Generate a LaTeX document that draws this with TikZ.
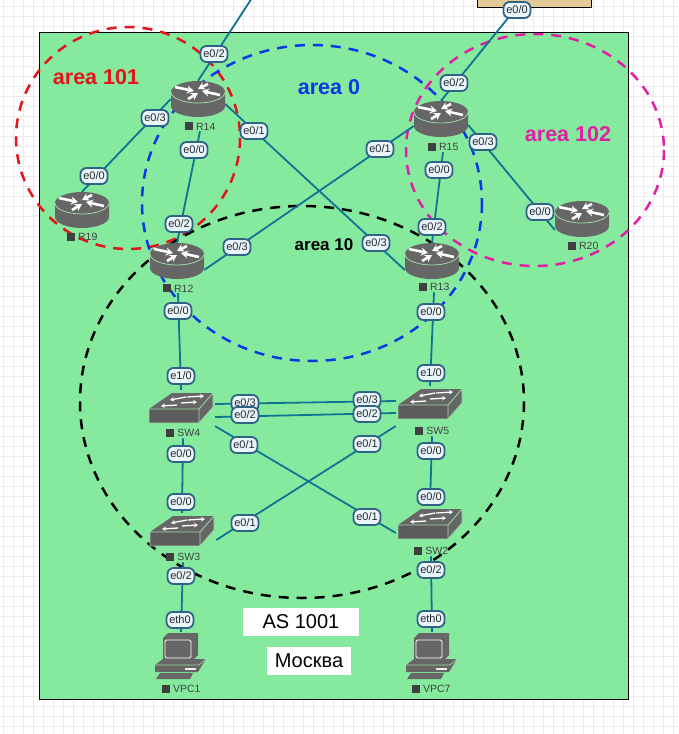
\documentclass[tikz,border=0pt]{standalone}
\usepackage{fontspec}
\setmainfont{Liberation Sans}
\usetikzlibrary{arrows.meta}
\pgfdeclarelayer{zones}
\pgfdeclarelayer{links}
\pgfsetlayers{zones,links,main}
\definecolor{zonegreen}{HTML}{86EA9E}
\definecolor{devgray}{HTML}{666666}
\definecolor{rimgreen}{HTML}{9FD8A8}
\definecolor{linkteal}{HTML}{0F7396}
\definecolor{portedge}{HTML}{2E6287}
\definecolor{portfill}{HTML}{EAF6FD}
\definecolor{tanbox}{HTML}{E2CB98}
\definecolor{area101}{HTML}{E3141C}
\definecolor{area0}{HTML}{0A38E6}
\definecolor{area102}{HTML}{E01FA6}
\tikzset{
  link/.style={draw=linkteal,line width=1.8pt},
  port/.style={draw=portedge,fill=portfill,line width=1.8pt,rounded corners=6pt,
    inner sep=0pt,minimum width=27pt,minimum height=16pt,text=black!85,
    font=\fontsize{11}{12}\selectfont},
  devlabel/.style={inner sep=1pt,text=black!75,font=\fontsize{10.5}{12}\selectfont},
  routerbox/.style={minimum width=54pt,minimum height=36pt,inner sep=0pt},
  switchbox/.style={minimum width=68pt,minimum height=36pt,inner sep=0pt},
  pcbox/.style={minimum width=52pt,minimum height=46pt,inner sep=0pt},
  zone/.style={line width=2.5pt,dash pattern=on 10pt off 8pt},
  areatext/.style={inner sep=0pt,font=\bfseries\fontsize{21.5}{24}\selectfont},
  whitetag/.style={fill=white,inner sep=0pt,text=black,font=\fontsize{20}{22}\selectfont},
  wing/.style={white,line width=2.6pt,-{Stealth[length=7pt,width=8pt]}},
  thinwing/.style={white,line width=1.3pt,-{Stealth[length=4pt,width=4.5pt]}},
  router/.pic={
    \fill[devgray] (-27,-7) -- (-27,7) arc[start angle=180,end angle=360,x radius=27,y radius=-11]
      -- (27,-7) -- cycle;
    \fill[devgray] (0,-7) ellipse[x radius=27,y radius=11];
    \draw[rimgreen,line width=0.8pt] (-27,-7) arc[start angle=180,end angle=360,x radius=27,y radius=-11];
    \draw[wing] (-23,-12) -- (-4,-8);
    \draw[wing] (22,-4) -- (4,-8);
    \draw[wing] (10,-15) -- (0,-10);
    \draw[wing] (-10,0) -- (0,-6);
  },
  switchdev/.pic={
    \fill[devgray] (-9,-15) -- (32,-15) -- (18,1) -- (-32,1) -- cycle;
    \fill[devgray!90!black] (-32,1) -- (18,1) -- (18,15) -- (-32,15) -- cycle;
    \fill[devgray] (18,1) -- (32,-15) -- (32,-1) -- (18,15) -- cycle;
    \draw[rimgreen,line width=0.8pt] (-32,1) -- (18,1) -- (32,-15) (18,1) -- (18,15) (-32,1) -- (-32,15) -- (18,15) -- (32,-1) -- (32,-15);
    \draw[thinwing] (5,-11) -- (-11,-8);
    \draw[thinwing] (6,-11) -- (23,-12);
    \draw[thinwing] (-4,-3) -- (-20,-2);
    \draw[thinwing] (0,-5) -- (16,-6);
  },
  pcdev/.pic={
    \fill[devgray] (-18,-17) -- (-13,-22) -- (17,-22) -- (12,-17) -- cycle;
    \fill[devgray] (12,-17) -- (17,-22) -- (17,0) -- (12,5) -- cycle;
    \fill[devgray] (-18,-17) rectangle (12,5);
    \draw[white,line width=0.9pt,rounded corners=1.5pt] (-16,-15) rectangle (10,3);
    \fill[devgray] (-26,10) -- (-18,4) -- (25,4) -- (17,17) -- (-26,17) -- cycle;
    \draw[rimgreen,line width=0.6pt] (-26,10) -- (18,10) -- (25,4);
    \fill[white!85!gray] (4,13) rectangle (15,15);
    \fill[devgray] (-21,18) -- (12,18) -- (9,24) -- (-25,24) -- cycle;
  },
}
\newcommand{\devtag}[1]{\rule{8pt}{8pt}\,\,#1}
\begin{document}
\begin{tikzpicture}[x=1pt,y=-1pt]
  \useasboundingbox (0,0) rectangle (679,734);
  % sheet and areas
  \begin{pgfonlayer}{zones}
    \fill[white] (0,0) rectangle (679,734);
    \foreach \g in {3,13,...,673}{
      \draw[black!8,line width=0.7pt] (\g,0) -- (\g,734);
    }
    \foreach \g in {6,16,...,730}{
      \draw[black!8,line width=0.7pt] (0,\g) -- (679,\g);
    }
    \draw[black,fill=zonegreen,line width=0.9pt] (39,32) rectangle (628,699);
    \draw[zone,area101] (128,138) ellipse[x radius=112,y radius=111];
    \draw[zone,area0] (312,203) ellipse[x radius=170,y radius=158];
    \draw[zone,area102] (535,150) ellipse[x radius=129,y radius=116];
    \draw[zone,black] (302,402) ellipse[x radius=222,y radius=196];
  \end{pgfonlayer}
  % devices
  \foreach \name/\x/\y/\lx/\ly in {R14/198/99/200/126,R19/82/210/82/237,R15/441/119/443/147,
    R20/582/219/583/246,R12/177/261/178/288,R13/432/261/434/287}{
    \pic at (\x,\y) {router};
    \node[routerbox] (\name) at (\x,\y) {};
    \node[devlabel] (\name lbl) at (\lx,\ly) {\devtag{\name}};
  }
  \foreach \name/\x/\y/\lx/\ly in {SW4/181/408/183/433,SW5/430/404/432/431,
    SW3/182/531/183/557,SW2/430/524/431/551}{
    \pic at (\x,\y) {switchdev};
    \node[switchbox] (\name) at (\x,\y) {};
    \node[devlabel] (\name lbl) at (\lx,\ly) {\devtag{\name}};
  }
  \foreach \name/\x/\y/\lx/\ly in {VPC1/181/655/181/689,VPC7/432/655/431/689}{
    \pic at (\x,\y) {pcdev};
    \node[pcbox] (\name) at (\x,\y) {};
    \node[devlabel] (\name lbl) at (\lx,\ly) {\devtag{\name}};
  }
  \node[draw=black,fill=tanbox,line width=0.9pt,minimum width=114pt,minimum height=34pt,inner sep=0pt] (upbox) at (534,-10) {};
  \coordinate (uplink) at (517,7);
  \coordinate (upfree) at (252,-2);
  % connectors
  \begin{pgfonlayer}{links}
    \draw[link] (R14.north) -- (upfree);
    \draw[link] (R15.north) -- (uplink);
    \draw[link] (R14.west) -- (R19.north);
    \draw[link] (R14lbl.south) -- (R12.north);
    \draw[link] ([yshift=-5pt]R14.east) -- ([yshift=-9pt]R13.west);
    \draw[link] ([yshift=-7pt]R15.west) -- ([yshift=-9pt]R12.east);
    \draw[link] ([yshift=-6pt]R15.east) -- ([yshift=-11pt]R20.west);
    \draw[link] (R15lbl.south) -- (R13.north);
    \draw[link] (R12lbl.south) -- (SW4.north);
    \draw[link] (R13lbl.south) -- (SW5.north);
    \draw[link] ([yshift=4pt]SW4.east) -- ([yshift=3pt]SW5.west);
    \draw[link] ([yshift=-9pt]SW4.east) -- ([yshift=-9pt]SW5.west);
    \draw[link] (SW4.south east) -- ([yshift=-9pt]SW2.west);
    \draw[link] ([yshift=-22pt]SW5.west) -- ([yshift=-9pt]SW3.east);
    \draw[link] (SW4lbl.south) -- (SW3.north);
    \draw[link] (SW5lbl.south) -- (SW2.north);
    \draw[link] (SW3lbl.south) -- (VPC1.north);
    \draw[link] (SW2lbl.south) -- (VPC7.north);
  \end{pgfonlayer}
  % port tags
  \foreach \i/\x/\y/\t in {a/214/54/{e0/2},b/155/118/{e0/3},c/254/131/{e0/1},d/194/150/{e0/0},
    e/94/176/{e0/0},f/179/224/{e0/2},g/237/247/{e0/3},h/178/311/{e0/0},i/181/376/{e1/0},
    j/245/403/{e0/3},k/245/415/{e0/2},l/367/400/{e0/3},m/367/414/{e0/2},n/244/445/{e0/1},
    o/367/444/{e0/1},p/181/454/{e0/0},q/181/502/{e0/0},r/245/523/{e0/1},s/367/517/{e0/1},
    t/181/576/{e0/2},u/180/620/{eth0},v/454/83/{e0/2},w/517/10/{e0/0},x/380/149/{e0/1},
    y/483/142/{e0/3},z/439/170/{e0/0},aa/432/227/{e0/2},ab/376/243/{e0/3},ac/431/312/{e0/0},
    ad/431/373/{e1/0},ae/431/451/{e0/0},af/431/497/{e0/0},ag/431/570/{e0/2},ah/431/619/{eth0},
    ai/540/212/{e0/0}}{
    \node[port] (port\i) at (\x,\y) {\t};
  }
  % area names
  \node[areatext,area101] (txt101) at (96,77) {area 101};
  \node[areatext,area0] (txt0) at (329,87) {area 0};
  \node[areatext,area102] (txt102) at (568,134) {area 102};
  \node[areatext,black,font=\bfseries\fontsize{17}{19}\selectfont] (txt10) at (324,245) {area 10};
  \node[whitetag,minimum width=116pt,minimum height=28pt] (astag) at (301,622) {AS 1001};
  \node[whitetag,minimum width=84pt,minimum height=28pt] (citytag) at (309,661) {Москва};
\end{tikzpicture}
\end{document}
